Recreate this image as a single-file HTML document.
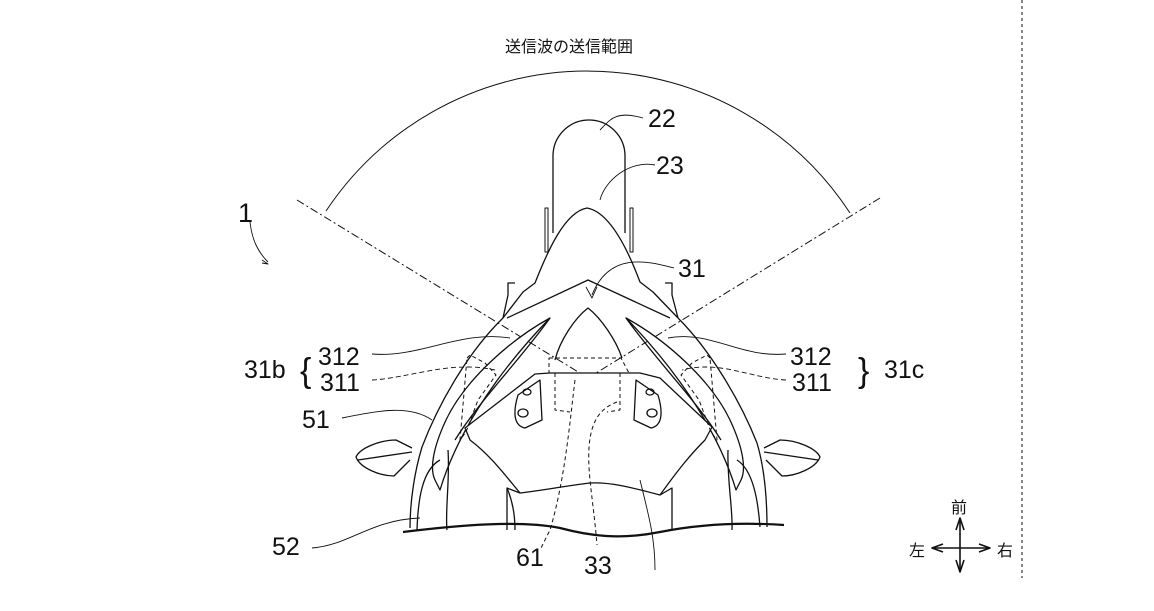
<!DOCTYPE html>
<html><head><meta charset="utf-8"><style>
html,body{margin:0;padding:0;background:#fff}
svg{display:block}
text{font-family:"Liberation Sans","Noto Sans CJK JP",sans-serif;fill:#111}
</style></head><body>
<svg width="1154" height="611" viewBox="0 0 1154 611" xmlns="http://www.w3.org/2000/svg">
<g fill="none" stroke="#111" stroke-width="1.3" stroke-linejoin="round">
<path d="M326 211 A314 314 0 0 1 850 213" stroke-width="1"/>
<path d="M297 200 L588 378 M880 198 L588 378" stroke-width="1" stroke-dasharray="8 3 2 3"/>
<line x1="1022" y1="0" x2="1022" y2="578" stroke-width="1" stroke-dasharray="3 3"/>
<path d="M553 233 L553 156 A36 36 0 0 1 625 156 L625 233" fill="#fff"/>
<path d="M545 208 L545 252 L548 252 L548 208 Z M630 208 L630 252 L633 252 L633 208 Z" stroke-width="1"/>
<path d="M515 283 L508 283 L508 295 L503 318 M665 283 L672 283 L672 295 L678 318" />
<path d="M503 318 L523 292 L535 283 C548 250 565 212 587 208 C610 212 628 250 640 282 L653 292 L678 318" fill="#fff"/>
<path d="M503 318 C470 350 440 400 422 447 C415 470 410 500 410 528" />
<path d="M678 318 C710 350 740 400 757 443 C765 470 767 500 767 527" />
<path d="M507 318 L588 280 L670 318"/>
<path d="M550 318 C510 340 465 380 446 420 C432 450 430 470 435 480 L440 490 C455 440 490 380 550 318 Z" fill="#fff"/>
<path d="M626 318 C666 340 711 380 730 420 C744 450 746 470 741 480 L736 490 C721 440 686 380 626 318 Z" fill="#fff"/>
<path d="M550 318 C520 360 480 400 455 440 M626 318 C656 360 696 400 721 440"/>
<path d="M555 360 C560 340 575 318 588 308 C601 318 616 340 622 358"/>
<path d="M549 358 L621 358 L629 373 L549 373 Z" stroke-dasharray="4 3" stroke-width="1"/>
<path d="M465 428 L535 374 L550 373 L640 373 L660 378 L712 427 L705 440 C690 455 678 470 660 495 C630 487 610 482 590 483 C565 486 545 490 520 493 C505 475 490 455 470 440 Z" fill="#fff"/>
<path d="M520 493 L507 488 L507 530 M660 495 L672 488 L672 530"/>
<path d="M518 395 L540 380 L542 420 L525 428 C515 426 512 415 518 395 Z"/>
<path d="M658 395 L636 380 L634 420 L651 428 C661 426 664 415 658 395 Z"/>
<ellipse cx="527" cy="392" rx="4" ry="3"/><ellipse cx="523" cy="413" rx="5" ry="4"/>
<ellipse cx="650" cy="392" rx="4" ry="3"/><ellipse cx="652" cy="413" rx="5" ry="4"/>
<g stroke-dasharray="4 3" stroke-width="1">
<path d="M555 373 L555 410 L570 412 M620 373 L620 410 L607 412"/>
<path d="M467 358 L470 355 L485 363 L496 375 L478 400 L466 432 L460 440 Z" />
<path d="M710 358 L707 355 L692 363 L681 375 L699 400 L711 432 L717 440 Z" />
<path d="M575 380 C570 420 565 480 550 530 L540 550"/>
<path d="M617 402 C595 410 585 430 590 480 C592 500 595 520 597 545"/>
</g>
<path d="M417 530 C418 500 422 470 440 460 M448 450 C450 480 445 510 447 530"/>
<path d="M760 527 C758 500 753 470 737 460 M728 450 C727 480 733 510 732 530"/>
<path d="M515 530 C515 510 510 495 507 488"/>
<path d="M412 448 L396 440 C380 440 360 448 356 457 C360 468 380 476 394 476 L410 460" fill="#fff"/>
<path d="M358 460 L412 452"/>
<path d="M764 448 L780 440 C796 440 816 448 820 457 C816 468 796 476 782 476 L766 460" fill="#fff"/>
<path d="M818 460 L764 452"/>
<path d="M403 532 C460 525 520 520 560 528 C590 536 620 540 660 532 C700 524 740 522 784 525" stroke-width="2.2"/>
<g stroke-width="0.9">
<path d="M643 118 C615 110 610 120 600 130"/>
<path d="M655 165 C630 160 605 180 600 200"/>
<path d="M674 268 C650 262 610 250 592 295"/>
<path d="M586 287 L592 298 L597 287"/>
<path d="M250 222 C252 240 258 252 268 262 M262 260 L268 264 L262 263"/>
<path d="M372 354 C420 358 460 330 510 338"/>
<path d="M372 380 C410 378 450 360 495 370" stroke-dasharray="5 3"/>
<path d="M786 354 C740 358 710 330 668 338"/>
<path d="M786 380 C750 378 720 360 682 370" stroke-dasharray="5 3"/>
<path d="M342 418 C380 410 410 405 432 420"/>
<path d="M312 548 C350 545 370 520 420 518"/>
<path d="M655 570 C655 540 650 520 640 480"/>
</g>
<g stroke-width="1.6">
<path d="M960 518 L960 572 M932 548 L990 548"/>
<path d="M956 530 L960 518 L964 530 M956 560 L960 572 L964 560 M943 544 L932 548 L943 552 M979 544 L990 548 L979 552"/>
</g>
</g>
<g font-size="25">
<text x="505" y="52" font-size="16">送信波の送信範囲</text>
<text x="648" y="127">22</text>
<text x="656" y="174">23</text>
<text x="678" y="277">31</text>
<text x="238" y="222" font-size="27">1</text>
<text x="244" y="378">31b</text>
<text x="300" y="382" font-size="34" font-weight="lighter">{</text>
<text x="318" y="365">312</text>
<text x="320" y="391">311</text>
<text x="790" y="365">312</text>
<text x="792" y="391">311</text>
<text x="858" y="382" font-size="34">}</text>
<text x="884" y="378">31c</text>
<text x="302" y="428">51</text>
<text x="272" y="555">52</text>
<text x="516" y="566">61</text>
<text x="584" y="574">33</text>
<text x="951" y="513" font-size="16">前</text>
<text x="909" y="556" font-size="16">左</text>
<text x="997" y="556" font-size="16">右</text>
</g>
</svg>
</body></html>
